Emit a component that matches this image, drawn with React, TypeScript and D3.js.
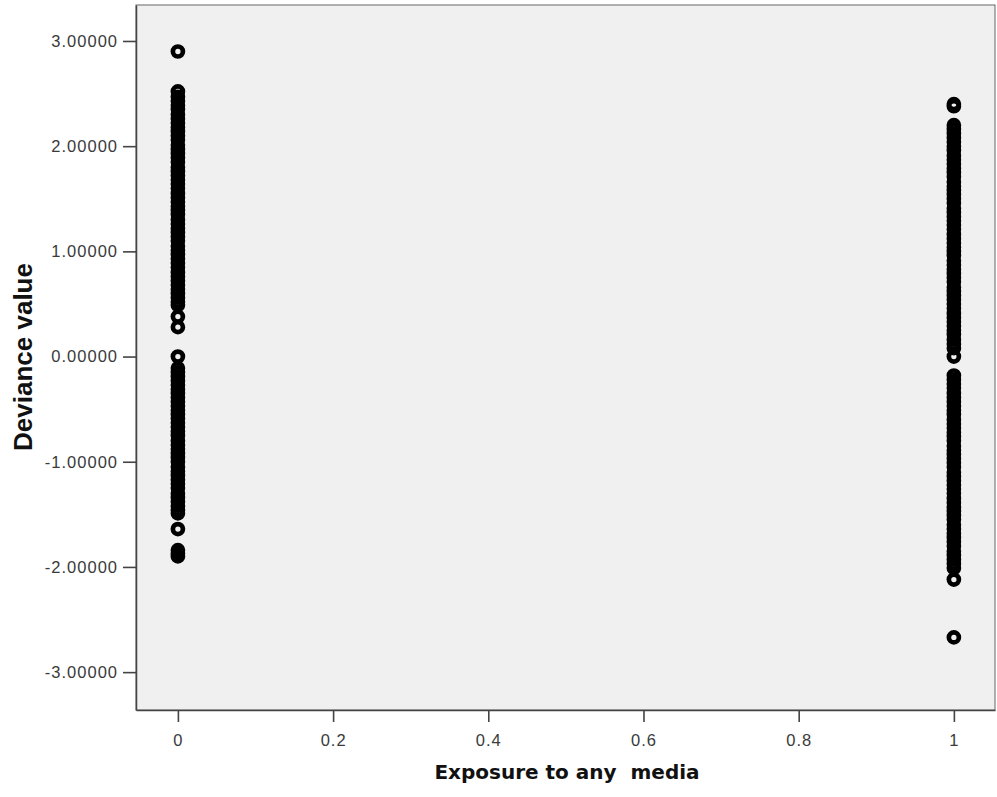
import { useEffect, useRef } from "react";
import * as d3 from "d3";

// deviance values, per exposure group
const exposureGroups = [0, 1];

const devianceNoExposure = [
  2.9,
  2.52, 2.47, 2.43, 2.39, 2.35, 2.3, 2.26, 2.22, 2.18, 2.14, 2.1, 2.06, 2.01, 1.97, 1.93, 1.89, 1.85,
  1.8, 1.76, 1.72, 1.68, 1.64, 1.6, 1.55, 1.51, 1.47, 1.43, 1.39, 1.35, 1.3, 1.26, 1.22, 1.18, 1.14,
  1.1, 1.05, 1.01, 0.97, 0.93, 0.89, 0.85, 0.8, 0.76, 0.72, 0.68, 0.64, 0.6, 0.56, 0.52, 0.49,
  0.38, 0.28, 0.0,
  -0.11, -0.15, -0.19, -0.23, -0.27, -0.31, -0.35, -0.39, -0.43, -0.47, -0.51, -0.55, -0.59, -0.63,
  -0.67, -0.71, -0.75, -0.8, -0.84, -0.88, -0.92, -0.96, -1.0, -1.05, -1.09, -1.13, -1.17, -1.21,
  -1.25, -1.3, -1.34, -1.38, -1.42, -1.46, -1.49,
  -1.64, -1.84, -1.87, -1.9,
];

const devianceExposure = [
  2.4, 2.38,
  2.2, 2.16, 2.12, 2.08, 2.04, 2.0, 1.96, 1.91, 1.87, 1.83, 1.79, 1.75, 1.71, 1.66, 1.62, 1.58, 1.54,
  1.5, 1.46, 1.41, 1.37, 1.33, 1.29, 1.25, 1.21, 1.16, 1.12, 1.08, 1.04, 1.0, 0.96, 0.91, 0.87, 0.83,
  0.79, 0.75, 0.71, 0.66, 0.62, 0.58, 0.54, 0.5, 0.46, 0.41, 0.37, 0.33, 0.29, 0.25, 0.21, 0.16,
  0.12, 0.08,
  0.0,
  -0.18, -0.22, -0.26, -0.3, -0.35, -0.39, -0.43, -0.47, -0.51, -0.55, -0.6, -0.64, -0.68, -0.72,
  -0.76, -0.8, -0.85, -0.89, -0.93, -0.97, -1.01, -1.05, -1.1, -1.14, -1.18, -1.22, -1.26, -1.3,
  -1.35, -1.39, -1.43, -1.47, -1.51, -1.55, -1.6, -1.64, -1.68, -1.72, -1.76, -1.8, -1.85, -1.89,
  -1.93, -1.97, -2.01,
  -2.12, -2.67,
];

const xTickValues = [0, 0.2, 0.4, 0.6, 0.8, 1];
const yTickValues = [3, 2, 1, 0, -1, -2, -3];

function App() {
  const svgRef = useRef<SVGSVGElement>(null);

  const width = 997;
  const height = 797;
  const margin = { top: 5, right: 2, bottom: 87, left: 136 };

  useEffect(() => {
    const svg = d3.select(svgRef.current);
    svg.selectAll("*").remove();

    const x = d3.scaleLinear().domain([-0.054, 1.053]).range([margin.left, width - margin.right]);
    const y = d3.scaleLinear().domain([-3.36, 3.342]).range([height - margin.bottom, margin.top]);

    svg.append("rect")
      .attr("x", margin.left)
      .attr("y", margin.top)
      .attr("width", width - margin.right - margin.left)
      .attr("height", height - margin.bottom - margin.top)
      .attr("fill", "#f0f0f0")
      .attr("stroke", "#666")
      .attr("stroke-width", 1);

    const points = [
      ...devianceNoExposure.map((v) => ({ g: exposureGroups[0], v })),
      ...devianceExposure.map((v) => ({ g: exposureGroups[1], v })),
    ];

    svg.append("g")
      .selectAll("circle")
      .data(points)
      .join("circle")
      .attr("cx", (d) => x(d.g))
      .attr("cy", (d) => y(d.v))
      .attr("r", 5)
      .attr("fill", "none")
      .attr("stroke", "#000")
      .attr("stroke-width", 4.7);

    const font = "'Liberation Sans', Arial, sans-serif";
    const fmtY = (d: number) => d3.format(".5f")(d).replace("\u2212", "-");

    const xAxis = svg.append("g")
      .attr("transform", `translate(0,${height - margin.bottom})`)
      .call(d3.axisBottom(x).tickValues(xTickValues).tickSize(12).tickSizeOuter(0).tickPadding(12).tickFormat(d3.format("")));
    const yAxis = svg.append("g")
      .attr("transform", `translate(${margin.left},0)`)
      .call(d3.axisLeft(y).tickValues(yTickValues).tickSize(13).tickSizeOuter(0).tickPadding(5).tickFormat(fmtY as any));

    [xAxis, yAxis].forEach((ax) => {
      ax.select(".domain").attr("stroke", "#444").attr("stroke-width", 1.5);
      ax.selectAll(".tick line").attr("stroke", "#444").attr("stroke-width", 1.6);
      ax.selectAll(".tick text")
        .attr("fill", "#3a3a3a")
        .attr("font-family", font)
        .attr("font-size", 16.5)
        .attr("letter-spacing", 1);
    });

    svg.append("text")
      .attr("x", 567)
      .attr("y", 779)
      .attr("text-anchor", "middle")
      .attr("font-family", "'DejaVu Sans', Verdana, sans-serif")
      .attr("font-weight", "bold")
      .attr("font-size", 20)
      .attr("fill", "#111")
      .attr("xml:space", "preserve")
      .style("white-space", "pre")
      .text("Exposure to any  media");

    svg.append("text")
      .attr("transform", `translate(32,${357}) rotate(-90)`)
      .attr("text-anchor", "middle")
      .attr("font-family", font)
      .attr("font-weight", "bold")
      .attr("font-size", 26)
      .attr("fill", "#111")
      .text("Deviance value");
  }, []);

  return (
    <div style={{ position: "absolute", top: 0, left: 0, background: "#fff" }}>
      <svg ref={svgRef} width={width} height={height} viewBox={`0 0 ${width} ${height}`} />
    </div>
  );
}

export default App;
